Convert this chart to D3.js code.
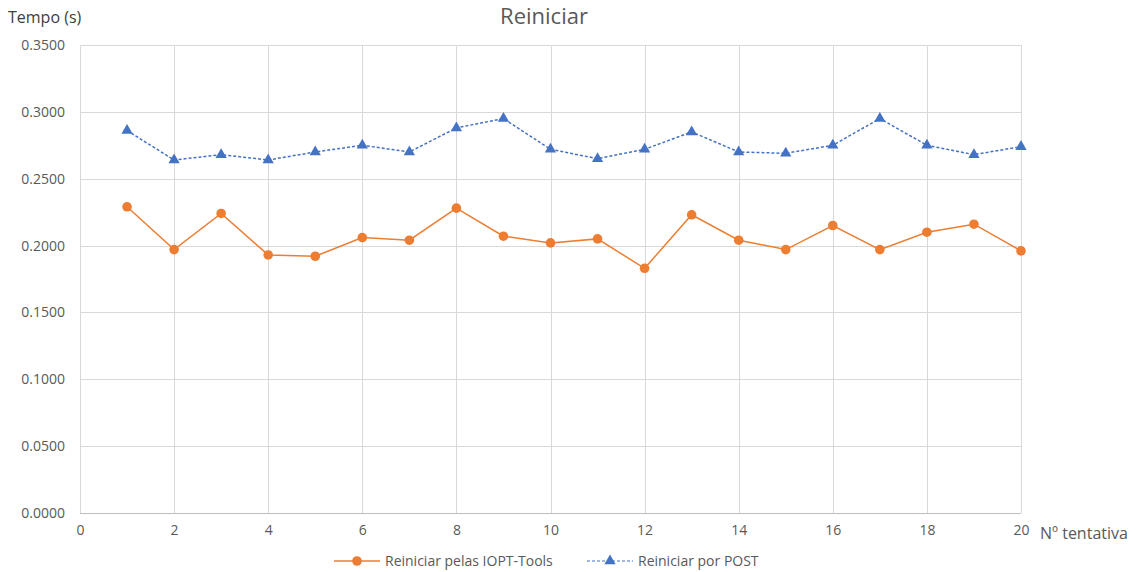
<!DOCTYPE html>
<html>
<head>
<meta charset="utf-8">
<script src="https://cdn.jsdelivr.net/npm/d3@7"></script>
<style>
  html, body { margin: 0; padding: 0; background: #fff; }
  svg { display: block; font-family: "Open Sans", "Noto Sans", sans-serif; }
</style>
</head>
<body>
<svg id="chart" width="1139" height="572"></svg>
<script>
// Attempt numbers (x) and response times in seconds (y)
const attempts = [1,2,3,4,5,6,7,8,9,10,11,12,13,14,15,16,17,18,19,20];
const ioptTools = [0.229,0.197,0.224,0.193,0.192,0.206,0.204,0.228,0.207,0.202,
                   0.205,0.183,0.223,0.204,0.197,0.215,0.197,0.210,0.216,0.196];
const postReq  = [0.286,0.264,0.268,0.264,0.270,0.275,0.270,0.288,0.295,0.272,
                   0.265,0.272,0.285,0.270,0.269,0.275,0.295,0.275,0.268,0.274];
const xTicks = [0,2,4,6,8,10,12,14,16,18,20];
const yTicks = [0,0.05,0.10,0.15,0.20,0.25,0.30,0.35];
const seriesNames = ["Reiniciar pelas IOPT-Tools", "Reiniciar por POST"];
const titleText = "Reiniciar";
const yTitle = "Tempo (s)";
const xTitle = "Nº tentativa";

const orange = "#ED7D31", blue = "#4472C4";
const textCol = "#595959";

const svg = d3.select("#chart");
const plotL = 80, plotR = 1021, plotT = 45, plotB = 513;

const x = d3.scaleLinear().domain([0, 20]).range([plotL, plotR]);
const y = d3.scaleLinear().domain([0, 0.35]).range([plotB, plotT]);

// Gridlines
const grid = svg.append("g");
grid.selectAll("line.h").data(yTicks).join("line")
  .attr("x1", plotL).attr("x2", plotR)
  .attr("y1", d => Math.round(y(d)) + 0.5).attr("y2", d => Math.round(y(d)) + 0.5)
  .attr("stroke", d => d === 0 ? "#BFBFBF" : "#D9D9D9").attr("stroke-width", 1);
grid.selectAll("line.v").data(xTicks).join("line")
  .attr("y1", plotT).attr("y2", plotB)
  .attr("x1", d => Math.round(x(d)) + 0.5).attr("x2", d => Math.round(x(d)) + 0.5)
  .attr("stroke", "#D9D9D9").attr("stroke-width", 1);

// Axes (labels only, lines drawn as gridlines)
const yAxis = d3.axisLeft(y).tickValues(yTicks).tickFormat(d3.format(".4f")).tickSize(0).tickPadding(15);
svg.append("g").attr("transform", `translate(${plotL},0)`).call(yAxis)
  .call(g => g.select(".domain").remove())
  .selectAll("text").attr("fill", textCol).style("font-size", "14px")
  .style("font-family", "'Open Sans', sans-serif");

const xAxis = d3.axisBottom(x).tickValues(xTicks).tickFormat(d3.format("d")).tickSize(0).tickPadding(12);
svg.append("g").attr("transform", `translate(0,${plotB})`).call(xAxis)
  .call(g => g.select(".domain").remove())
  .selectAll("text").attr("fill", textCol).style("font-size", "14px")
  .style("font-family", "'Open Sans', sans-serif");

// Titles
svg.append("text").attr("x", 544).attr("y", 24).attr("text-anchor", "middle")
  .attr("fill", textCol).style("font-size", "22px").text(titleText);
svg.append("text").attr("x", 8).attr("y", 23)
  .attr("fill", "#404040").style("font-size", "16px").text(yTitle);
svg.append("text").attr("x", 1040).attr("y", 539)
  .attr("fill", textCol).style("font-size", "16px").text(xTitle);

// Series
const line = d3.line().x(d => x(d[0])).y(d => y(d[1]));
const dataA = attempts.map((a, i) => [a, ioptTools[i]]);
const dataB = attempts.map((a, i) => [a, postReq[i]]);

svg.append("path").datum(dataB).attr("d", line).attr("fill", "none")
  .attr("stroke", blue).attr("stroke-width", 1.5).attr("stroke-dasharray", "3,2");
const tri = d3.symbol().type(d3.symbolTriangle).size(55);
svg.append("g").selectAll("path").data(dataB).join("path")
  .attr("d", tri).attr("fill", blue)
  .attr("transform", d => `translate(${x(d[0])},${y(d[1])})`);

svg.append("path").datum(dataA).attr("d", line).attr("fill", "none")
  .attr("stroke", orange).attr("stroke-width", 1.5);
svg.append("g").selectAll("circle").data(dataA).join("circle")
  .attr("cx", d => x(d[0])).attr("cy", d => y(d[1])).attr("r", 4.8)
  .attr("fill", orange);

// Legend
const lg = svg.append("g");
const ly = 561;
lg.append("line").attr("x1", 334).attr("x2", 380).attr("y1", ly).attr("y2", ly)
  .attr("stroke", orange).attr("stroke-width", 1.5);
lg.append("circle").attr("cx", 357).attr("cy", ly).attr("r", 4.8).attr("fill", orange);
lg.append("text").attr("x", 385).attr("y", ly + 5).attr("fill", textCol)
  .style("font-size", "14px").text(seriesNames[0]);
lg.append("line").attr("x1", 587).attr("x2", 633).attr("y1", ly).attr("y2", ly)
  .attr("stroke", blue).attr("stroke-width", 1.2).attr("stroke-dasharray", "3,2");
lg.append("path").attr("d", tri).attr("fill", blue).attr("transform", `translate(610,${ly})`);
lg.append("text").attr("x", 638).attr("y", ly + 5).attr("fill", textCol)
  .style("font-size", "14px").text(seriesNames[1]);
</script>
</body>
</html>
